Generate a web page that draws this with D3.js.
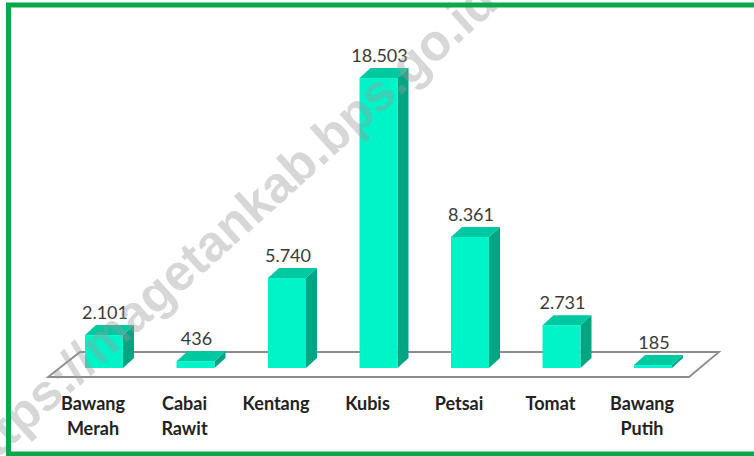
<!DOCTYPE html>
<html>
<head>
<meta charset="utf-8">
<script src="https://cdn.jsdelivr.net/npm/d3@7"></script>
<style>
  html, body { margin: 0; padding: 0; background: #ffffff; }
  svg { display: block; }
</style>
</head>
<body>
<svg id="chart" width="754" height="456"></svg>
<script>
// ---- data ----
const categories = ["Bawang Merah", "Cabai Rawit", "Kentang", "Kubis", "Petsai", "Tomat", "Bawang Putih"];
const categoryLines = [["Bawang", "Merah"], ["Cabai", "Rawit"], ["Kentang"], ["Kubis"], ["Petsai"], ["Tomat"], ["Bawang", "Putih"]];
const values = [2101, 436, 5740, 18503, 8361, 2731, 185];
const valueLabels = ["2.101", "436", "5.740", "18.503", "8.361", "2.731", "185"];
const watermark = "https://magetankab.bps.go.id";

// ---- layout ----
const W = 754, H = 456;
const svg = d3.select("#chart");

const x = d3.scalePoint().domain(categories).range([104, 653]);
const y = d3.scaleLinear().domain([0, 20000]).range([368, 54.6]);
const barW = 38, depthX = 11, depthY = -10;

const colFront = "#00F4C8", colTop = "#00C9A2", colSide = "#00A683";

// background
svg.append("rect").attr("x", 0).attr("y", 0).attr("width", W).attr("height", H).attr("fill", "#fff");

// floor plane
const floor = [[80, 352], [719, 352], [689, 377], [48, 377]];
svg.append("path")
  .attr("d", d3.line()(floor) + "Z")
  .attr("fill", "#ffffff")
  .attr("stroke", "#8c8c8c")
  .attr("stroke-width", 1.8);

// bars
const g = svg.append("g");
categories.forEach((c, i) => {
  const cx = x(c);
  const x0 = cx - barW / 2, x1 = cx + barW / 2;
  const yb = y(0), yt = y(values[i]);
  // side face
  g.append("path")
    .attr("d", d3.line()([[x1, yt], [x1 + depthX, yt + depthY], [x1 + depthX, yb + depthY], [x1, yb]]) + "Z")
    .attr("fill", colSide);
  // top face
  g.append("path")
    .attr("d", d3.line()([[x0, yt], [x0 + depthX, yt + depthY], [x1 + depthX, yt + depthY], [x1, yt]]) + "Z")
    .attr("fill", colTop);
  // front face
  g.append("rect")
    .attr("x", x0).attr("y", yt).attr("width", barW).attr("height", yb - yt)
    .attr("fill", colFront);
  // value label
  g.append("text")
    .attr("x", cx + 1).attr("y", yt + depthY - 6)
    .attr("text-anchor", "middle")
    .attr("font-family", "Lato, 'DejaVu Sans', sans-serif")
    .attr("font-size", 18)
    .attr("fill", "#3a3a3a")
    .text(valueLabels[i]);
  // category label
  const t = g.append("text")
    .attr("text-anchor", "middle")
    .attr("font-family", "Lato, 'DejaVu Sans', sans-serif")
    .attr("font-weight", "bold")
    .attr("font-size", 18)
    .attr("fill", "#222");
  categoryLines[i].forEach((ln, j) => {
    t.append("tspan").attr("x", cx - 11).attr("y", 410 + j * 25).text(ln);
  });
});

// watermark
svg.append("text")
  .attr("transform", "translate(228,233) rotate(-42)")
  .attr("text-anchor", "middle")
  .attr("dominant-baseline", "middle")
  .attr("font-family", "'Liberation Sans', Arial, sans-serif")
  .attr("font-weight", "bold")
  .attr("font-size", 51)
  .attr("fill", "#9a9a9a")
  .attr("fill-opacity", 0.4)
  .text(watermark);

// green frame
svg.append("rect")
  .attr("x", 8.5).attr("y", 5).attr("width", 752).attr("height", 449)
  .attr("fill", "none")
  .attr("stroke", "#0aa84a")
  .attr("stroke-width", 5);
</script>
</body>
</html>
